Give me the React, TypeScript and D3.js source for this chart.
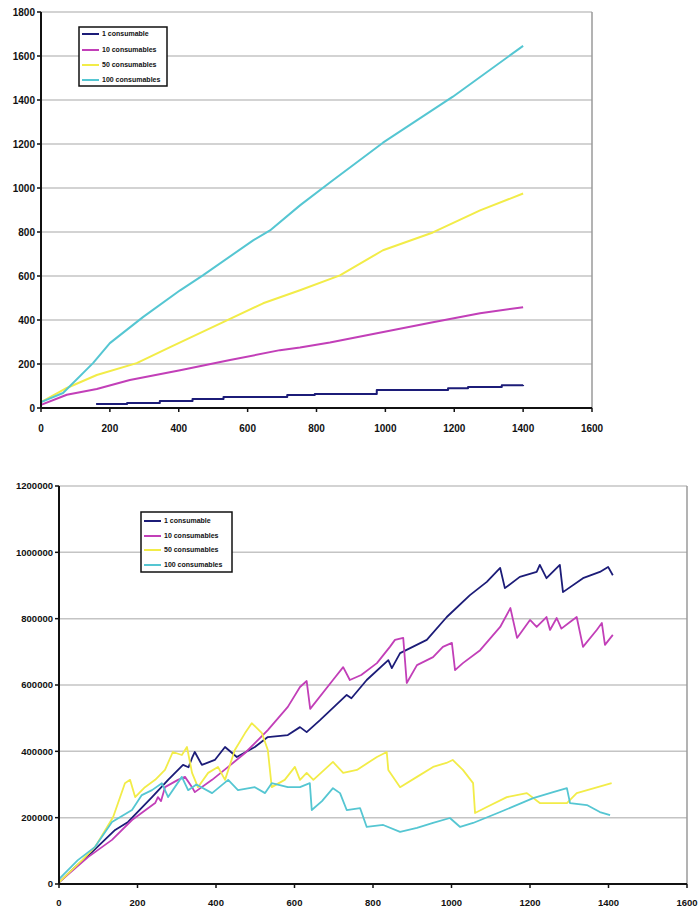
import React from 'react';
import * as d3 from 'd3';

type Pt = [number, number];

// ---- top chart: cumulative totals ----
const topLabels = ['1 consumable', '10 consumables', '50 consumables', '100 consumables'];
const topColors = ['#1c1c78', '#c23fb8', '#f2ec48', '#55c6d2'];
const topXTicks = [0, 200, 400, 600, 800, 1000, 1200, 1400, 1600];
const topYTicks = [0, 200, 400, 600, 800, 1000, 1200, 1400, 1600, 1800];

const top1: Pt[] = [
  [160, 18], [250, 23], [345, 32], [440, 41], [530, 50], [715, 59], [795, 64],
  [975, 82], [1182, 90], [1240, 95], [1338, 103], [1400, 104],
];
const top10: Pt[] = [
  [0, 14], [75, 60], [162, 86], [258, 127], [404, 172], [549, 218], [694, 263],
  [752, 275], [839, 298], [946, 331], [1138, 390], [1275, 431], [1400, 458],
];
const top50: Pt[] = [
  [0, 27], [75, 91], [162, 150], [278, 204], [375, 277], [529, 390], [645, 476],
  [752, 535], [868, 603], [993, 717], [1138, 798], [1275, 898], [1400, 975],
];
const top100: Pt[] = [
  [0, 27], [64, 68], [151, 204], [200, 295], [296, 413], [404, 535], [470, 603],
  [616, 762], [665, 807], [752, 921], [839, 1025], [993, 1206], [1196, 1415], [1400, 1646],
];

// ---- bottom chart: jagged values ----
const botLabels = ['1 consumable', '10 consumables', '50 consumables', '100 consumables'];
const botXTicks = [0, 200, 400, 600, 800, 1000, 1200, 1400, 1600];
const botYTicks = [0, 200000, 400000, 600000, 800000, 1000000, 1200000];

const bot1: Pt[] = [
  [0, 5000], [41, 51000], [84, 96000], [143, 163000], [176, 187000], [237, 262000],
  [278, 314000], [316, 359000], [330, 352000], [339, 380000], [346, 398000], [364, 359000],
  [397, 374000], [423, 413000], [453, 383000], [499, 413000], [532, 443000], [583, 449000],
  [614, 473000], [631, 458000], [665, 494000], [733, 570000], [745, 560000], [784, 615000],
  [839, 675000], [848, 651000], [869, 696000], [937, 736000], [988, 805000], [1047, 871000],
  [1090, 911000], [1124, 953000], [1136, 892000], [1174, 926000], [1217, 941000], [1225, 962000],
  [1242, 922000], [1276, 962000], [1284, 880000], [1335, 922000], [1378, 941000], [1399, 956000],
  [1411, 931000],
];
const bot10: Pt[] = [
  [0, 5000], [74, 81000], [135, 133000], [186, 193000], [245, 244000], [252, 262000],
  [260, 250000], [270, 292000], [303, 314000], [321, 323000], [339, 292000], [346, 277000],
  [390, 314000], [431, 353000], [474, 395000], [532, 464000], [583, 534000], [614, 594000],
  [631, 612000], [640, 528000], [698, 615000], [724, 654000], [741, 615000],
  [770, 630000], [810, 666000], [843, 715000], [856, 736000], [877, 742000], [886, 606000],
  [912, 660000], [953, 684000], [978, 715000], [1001, 727000], [1009, 645000], [1029, 666000],
  [1073, 705000], [1124, 775000], [1150, 832000], [1167, 742000], [1200, 796000], [1217, 775000],
  [1242, 805000], [1251, 766000], [1268, 802000], [1280, 770000], [1302, 790000], [1319, 805000],
  [1335, 715000], [1370, 766000], [1383, 787000], [1391, 721000], [1411, 751000],
];
const bot50: Pt[] = [
  [0, 5000], [59, 72000], [92, 112000], [138, 202000], [168, 304000], [181, 314000],
  [194, 262000], [219, 292000], [245, 314000], [270, 344000], [290, 398000], [313, 389000],
  [326, 413000], [339, 335000], [354, 292000], [380, 335000], [405, 353000], [423, 314000],
  [448, 404000], [474, 455000], [491, 485000], [517, 455000], [532, 404000], [542, 292000],
  [575, 314000], [601, 353000], [614, 314000], [631, 335000], [648, 314000], [698, 368000],
  [724, 335000], [759, 344000], [810, 383000], [835, 398000], [839, 344000], [869, 292000],
  [912, 323000], [953, 353000], [987, 365000], [1003, 374000], [1029, 344000], [1055, 304000],
  [1060, 214000], [1090, 232000], [1141, 262000], [1192, 274000], [1225, 244000], [1294, 244000],
  [1319, 274000], [1408, 304000],
];
const bot100: Pt[] = [
  [0, 15000], [48, 72000], [92, 112000], [135, 187000], [186, 223000], [211, 268000],
  [237, 283000], [262, 304000], [278, 262000], [313, 323000], [329, 283000], [350, 300000],
  [390, 274000], [431, 314000], [456, 283000], [499, 292000], [525, 274000], [542, 304000],
  [583, 292000], [614, 292000], [639, 304000], [644, 223000], [670, 250000], [698, 289000],
  [716, 274000], [733, 223000], [767, 229000], [784, 172000], [826, 178000], [869, 157000],
  [912, 169000], [953, 184000], [996, 199000], [1022, 172000], [1055, 184000], [1124, 217000],
  [1208, 259000], [1259, 277000], [1294, 289000], [1302, 244000], [1345, 238000], [1378, 217000],
  [1404, 208000],
];

const FONT = '"Liberation Sans", Arial, sans-serif';

type Series = { label: string; color: string; data: Pt[]; step?: boolean };

type ChartProps = {
  series: Series[];
  xTicks: number[];
  yTicks: number[];
  left: number; right: number; top: number; bottom: number;
  legend: { x: number; y: number; w: number; h: number; rows: number[] };
  labelY: number;
  fontSize: number;
  lineWidth: number;
};

const Chart: React.FC<ChartProps> = ({ series, xTicks, yTicks, left, right, top, bottom, legend, labelY, fontSize, lineWidth }) => {
  const x = d3.scaleLinear().domain([xTicks[0], xTicks[xTicks.length - 1]]).range([left, right]);
  const y = d3.scaleLinear().domain([yTicks[0], yTicks[yTicks.length - 1]]).range([bottom, top]);
  const mkLine = (step?: boolean) =>
    d3.line<Pt>().x(d => x(d[0])).y(d => y(d[1])).curve(step ? d3.curveStepAfter : d3.curveLinear);

  return (
    <g>
      {/* gridlines */}
      {yTicks.slice(1).map(t => (
        <line key={'g' + t} x1={left} x2={right} y1={y(t)} y2={y(t)} stroke="#c4c4c4" strokeWidth={1.5} />
      ))}
      {/* right border */}
      <line x1={right} x2={right} y1={top} y2={bottom} stroke="#9a9a9a" strokeWidth={1.5} />
      {/* series */}
      {series.map(s => (
        <path key={s.label} d={mkLine(s.step)(s.data) || ''} fill="none" stroke={s.color} strokeWidth={lineWidth} strokeLinejoin="round" />
      ))}
      {/* axes */}
      <line x1={left} x2={left} y1={top} y2={bottom} stroke="#111" strokeWidth={2} />
      <line x1={left} x2={right} y1={bottom} y2={bottom} stroke="#111" strokeWidth={2} />
      {yTicks.map(t => (
        <g key={'y' + t}>
          <line x1={left - 4} x2={left} y1={y(t)} y2={y(t)} stroke="#111" strokeWidth={1.5} />
          <text x={left - 6} y={y(t)} dy="0.35em" textAnchor="end" fontFamily={FONT} fontWeight="bold" fontSize={fontSize} fill="#111">{t}</text>
        </g>
      ))}
      {xTicks.map(t => (
        <g key={'x' + t}>
          <line x1={x(t)} x2={x(t)} y1={bottom} y2={bottom + 4} stroke="#111" strokeWidth={1.5} />
          <text x={x(t)} y={labelY} textAnchor="middle" fontFamily={FONT} fontWeight="bold" fontSize={fontSize} fill="#111">{t}</text>
        </g>
      ))}
      {/* legend */}
      <rect x={legend.x} y={legend.y} width={legend.w} height={legend.h} fill="#fff" stroke="#111" strokeWidth={1.5} />
      {series.map((s, i) => (
        <g key={'l' + s.label}>
          <line x1={legend.x + 3} x2={legend.x + 20} y1={legend.rows[i]} y2={legend.rows[i]} stroke={s.color} strokeWidth={2} />
          <text x={legend.x + 23} y={legend.rows[i]} dy="0.35em" fontFamily={FONT} fontWeight="bold" fontSize={7} fill="#111">{s.label}</text>
        </g>
      ))}
    </g>
  );
};

export default function App() {
  const topSeries: Series[] = [
    { label: topLabels[0], color: topColors[0], data: top1, step: true },
    { label: topLabels[1], color: topColors[1], data: top10 },
    { label: topLabels[2], color: topColors[2], data: top50 },
    { label: topLabels[3], color: topColors[3], data: top100 },
  ];
  const botSeries: Series[] = [
    { label: botLabels[0], color: topColors[0], data: bot1 },
    { label: botLabels[1], color: topColors[1], data: bot10 },
    { label: botLabels[2], color: topColors[2], data: bot50 },
    { label: botLabels[3], color: topColors[3], data: bot100 },
  ];
  return (
    <svg width={699} height={910} style={{ position: 'absolute', left: 0, top: 0, background: '#fff' }}>
      <Chart
        series={topSeries}
        xTicks={topXTicks}
        yTicks={topYTicks}
        left={41} right={592} top={12} bottom={408}
        legend={{ x: 79, y: 27, w: 88, h: 59, rows: [34, 50, 65, 80] }}
        labelY={432}
        fontSize={10}
        lineWidth={2}
      />
      <Chart
        series={botSeries}
        xTicks={botXTicks}
        yTicks={botYTicks}
        left={59} right={687} top={486} bottom={884}
        legend={{ x: 141, y: 512, w: 91, h: 60, rows: [521, 536, 550, 565] }}
        labelY={906}
        fontSize={9.5}
        lineWidth={1.8}
      />
    </svg>
  );
}
